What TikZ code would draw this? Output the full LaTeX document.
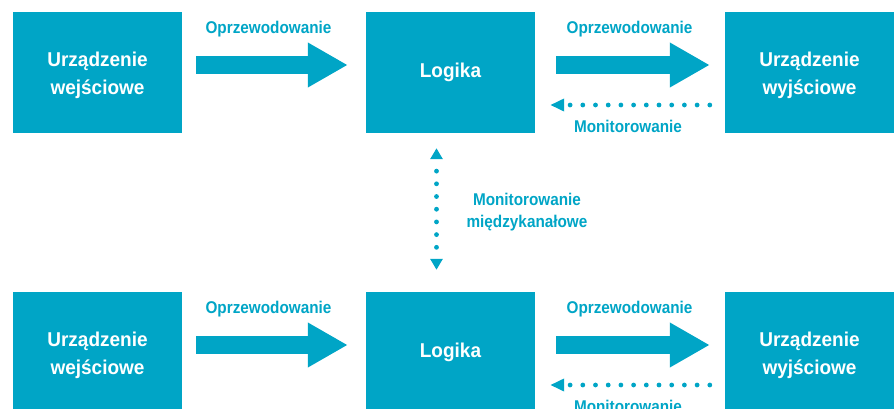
\documentclass[tikz,border=0pt]{standalone}
\usepackage{fontspec}
\newfontfamily\diafont[FakeStretch=0.9]{Liberation Sans}
\newfontfamily\boxfnt[FakeStretch=0.95]{Liberation Sans}
\usetikzlibrary{arrows.meta}
\definecolor{teal1}{RGB}{0,165,198}
\tikzset{
  devbox/.style={fill=teal1, draw=none, minimum width=169pt, minimum height=121pt, inner sep=0pt},
  boxtxt/.style={text=white, align=center, inner sep=0pt, font=\boxfnt\bfseries\fontsize{20}{28}\selectfont},
  lbl/.style={text=teal1, align=center, inner sep=0pt, font=\diafont\bfseries\fontsize{17}{22}\selectfont},
  bigarrow/.style={draw=teal1, line width=18pt, -{Triangle[length=40pt,width=42pt]}},
  dotline/.style={draw=teal1, line width=4.8pt, line cap=round, dash pattern=on 0pt off 12.7pt},
  htip/.style={-{Triangle[length=14pt,width=12pt]}},
}
\begin{document}
\begin{tikzpicture}[x=1pt,y=-1pt]
\useasboundingbox (0,0) rectangle (895,408);
\clip (0,0) rectangle (895,408);
\foreach \r/\dy in {a/0, b/280}{
  \node[devbox] (in\r) at (97.5,72.5+\dy) {};
  \node[devbox] (lg\r) at (450.5,72.5+\dy) {};
  \node[devbox] (out\r) at (809.5,72.5+\dy) {};
  \node[boxtxt] (int\r) at ([yshift=-3pt]in\r.center) {Urządzenie\\wejściowe};
  \node[boxtxt] (lgt\r) at (lg\r.center) {Logika};
  \node[boxtxt] (outt\r) at ([yshift=-3pt]out\r.center) {Urządzenie\\wyjściowe};
  \draw[bigarrow] ([xshift=14pt,yshift=7.5pt]in\r.east) -- ([xshift=-18pt,yshift=7.5pt]lg\r.west);
  \draw[bigarrow] ([xshift=21pt,yshift=7.5pt]lg\r.east) -- ([xshift=-15pt,yshift=7.5pt]out\r.west);
  \draw[dotline, htip] ([xshift=-15pt,yshift=-32.5pt]out\r.west) -- ([xshift=15pt,yshift=-32.5pt]lg\r.east);
  \node[lbl, anchor=base] (w1\r) at (268.5,33+\dy) {Oprzewodowanie};
  \node[lbl, anchor=base] (w2\r) at (629.5,33+\dy) {Oprzewodowanie};
  \node[lbl, anchor=base] (mo\r) at (628,132+\dy) {Monitorowanie};
}
\draw[dotline, dash phase=0.1pt, {Triangle[length=11pt,width=12pt]}-{Triangle[length=11pt,width=12pt]}]
  ([xshift=-14pt,yshift=-15pt]lga.south) -- ([xshift=-14pt,yshift=22pt]lgb.north);
\node[lbl] (mk) at (527,211.7) {Monitorowanie\\międzykanałowe};
\end{tikzpicture}
\end{document}
